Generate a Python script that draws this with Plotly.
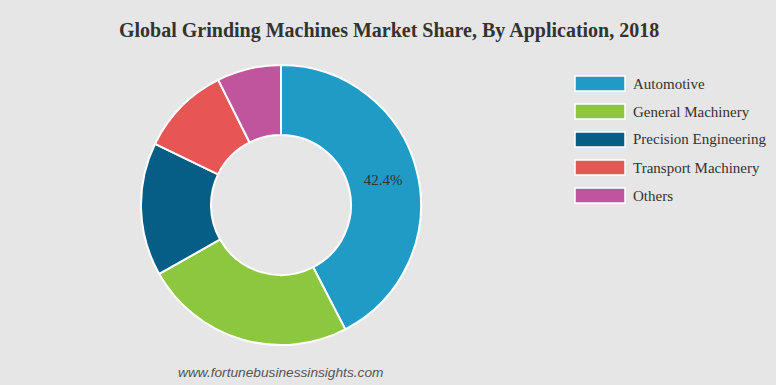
import plotly.graph_objects as go

labels = ["Automotive", "General Machinery", "Precision Engineering", "Transport Machinery", "Others"]
values = [42.4, 24.4, 15.4, 10.4, 7.4]
colors = ["#1f9bc6", "#8dc63f", "#065e86", "#e85555", "#c0559e"]
shown_text = ["42.4%", "", "", "", ""]

W, H = 776, 385
bg = "#e6e6e6"

cx, cy, r = 281, 205, 140
fig = go.Figure()
fig.add_trace(go.Pie(
    labels=labels, values=values, hole=0.5, sort=False, direction="clockwise",
    rotation=0,
    marker=dict(colors=colors, line=dict(color="white", width=2)),
    text=shown_text, textinfo="text", textposition="inside",
    insidetextorientation="horizontal",
    textfont=dict(family="Liberation Serif", size=15, color="#333333"),
    domain=dict(x=[(cx - r) / W, (cx + r) / W], y=[(H - cy - r) / H, (H - cy + r) / H]),
    showlegend=False, hoverinfo="label+percent",
))

# legend
lx0, lx1, ly0, step, bh = 575, 625, 83.5, 28, 15
for i, (lab, col) in enumerate(zip(labels, colors)):
    yc = ly0 + i * step
    fig.add_shape(type="rect", xref="paper", yref="paper",
                  x0=lx0 / W, x1=lx1 / W, y0=(H - yc - bh / 2) / H, y1=(H - yc + bh / 2) / H,
                  fillcolor=col, line=dict(color="white", width=1.5))
    fig.add_annotation(x=631 / W, y=(H - yc) / H, xref="paper", yref="paper",
                       text=lab, showarrow=False, xanchor="left", yanchor="middle",
                       font=dict(family="Liberation Serif", size=15, color="#333333"))

fig.add_annotation(x=389 / W, y=(H - 30) / H, xref="paper", yref="paper",
                   text="<b>Global Grinding Machines Market Share, By Application, 2018</b>",
                   showarrow=False, xanchor="center", yanchor="middle",
                   font=dict(family="Liberation Serif", size=20, color="#333333"))
fig.add_annotation(x=280 / W, y=(H - 372) / H, xref="paper", yref="paper",
                   text="<i>www.fortunebusinessinsights.com</i>",
                   showarrow=False, xanchor="center", yanchor="middle",
                   font=dict(family="Liberation Sans", size=13.7, color="#555555"))

fig.update_layout(width=W, height=H, margin=dict(l=0, r=0, t=0, b=0),
                  paper_bgcolor=bg, plot_bgcolor=bg)
fig.write_html("out.html")
